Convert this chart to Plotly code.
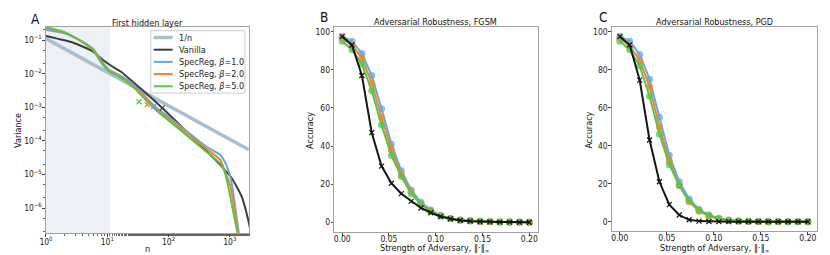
import plotly.graph_objects as go

# ---------------- Panel A data ----------------
inv_n_n = [1, 2048]
inv_n_var = [0.11, 5.4e-5]

van_n = [1, 2.8, 5.9, 8.5, 12.3, 16.8, 26, 43, 80, 190, 650, 1070, 1560, 2048, 2300]
van_var = [0.131, 0.083, 0.045, 0.0254, 0.016, 0.0114, 0.00575, 0.0026, 9.3e-4, 2.0e-4,
           2.2e-5, 7.8e-6, 2.2e-6, 3.6e-7, 1.2e-7]

b1_n = [1, 1.9, 2.8, 4.6, 5.9, 8.5, 10.9, 15.7, 26, 38, 62, 115, 400, 700, 890, 1050, 1420]
b1_var = [0.20, 0.16, 0.123, 0.076, 0.054, 0.0207, 0.0128, 0.0091, 0.0049, 0.00247,
          1.01e-3, 4.2e-4, 7.0e-5, 3.8e-5, 1.8e-5, 6.8e-6, 1.5e-7]

b2_n = [1, 1.9, 2.8, 4.6, 5.9, 8.5, 10.9, 15.7, 26, 38, 62, 115, 400, 700, 840, 1010, 1390]
b2_var = [0.223, 0.173, 0.127, 0.0735, 0.052, 0.0193, 0.0119, 0.0085, 0.0044, 0.00223,
          9.1e-4, 3.75e-4, 6.1e-5, 2.7e-5, 1.18e-5, 4.8e-6, 1.5e-7]

b5_n = [1, 1.9, 2.8, 4.6, 5.9, 8.5, 10.9, 15.7, 26, 38, 62, 115, 400, 700, 850, 950, 1360]
b5_var = [0.24, 0.177, 0.125, 0.071, 0.050, 0.018, 0.0114, 0.0081, 0.0041, 0.00205,
          8.3e-4, 3.3e-4, 5.0e-5, 2.1e-5, 1.0e-5, 4.0e-6, 1.5e-7]

# effective-dimension markers (n, variance) per curve
mark_n = {"van": 79, "b1": 57, "b2": 45, "b5": 33}
mark_var = {"van": 9.4e-4, "b1": 1.05e-3, "b2": 1.2e-3, "b5": 1.45e-3}

shade_n = [1, 11.1]

a_xtickvals = [1, 10, 100, 1000]
a_xticktext = ["10<sup>0</sup>", "10<sup>1</sup>", "10<sup>2</sup>", "10<sup>3</sup>"]
a_ytickvals = [1e-6, 1e-5, 1e-4, 1e-3, 1e-2, 1e-1]
a_yticktext = ["10<sup>−6</sup>", "10<sup>−5</sup>", "10<sup>−4</sup>",
               "10<sup>−3</sup>", "10<sup>−2</sup>", "10<sup>−1</sup>"]

legend_labels = ["1/n", "Vanilla", "SpecReg, <i>β</i>=1.0", "SpecReg, <i>β</i>=2.0", "SpecReg, <i>β</i>=5.0"]

# ---------------- Panels B/C data ----------------
eps = [0.0, 0.0105, 0.0211, 0.0316, 0.0421, 0.0526, 0.0632, 0.0737, 0.0842, 0.0947,
       0.1053, 0.1158, 0.1263, 0.1368, 0.1474, 0.1579, 0.1684, 0.1789, 0.1895, 0.2]

fgsm_van = [97.5, 93, 77, 47, 29.5, 20.5, 15, 11, 7.5, 5, 3, 1.8, 1, 0.6, 0.3, 0.2, 0.1, 0.1, 0, 0]
fgsm_b1 = [97.5, 95, 88.5, 77, 59.5, 41, 27, 17, 10.5, 6.5, 3.5, 2, 1.2, 0.8, 0.5, 0.3, 0.2, 0.1, 0.1, 0]
fgsm_b2 = [96.5, 93, 86, 73, 55, 38, 25, 16, 9.5, 6, 3.3, 1.8, 1.1, 0.7, 0.4, 0.3, 0.2, 0.1, 0.1, 0]
fgsm_b5 = [95, 90.5, 83, 69, 51, 35, 24, 15, 9.5, 5.8, 3.5, 2, 1.2, 0.8, 0.5, 0.3, 0.2, 0.1, 0.1, 0]

pgd_van = [97.5, 93, 74.5, 43, 21, 9, 3.5, 1, 0.3, 0.1, 0, 0, 0, 0, 0, 0, 0, 0, 0, 0]
pgd_b1 = [97.5, 95, 88, 75, 55, 35, 21, 12, 6.5, 3.5, 1.8, 0.8, 0.4, 0.2, 0.1, 0, 0, 0, 0, 0]
pgd_b2 = [96.5, 92.5, 85, 71, 50, 32, 19, 10.5, 5.5, 3, 1.5, 0.7, 0.3, 0.1, 0, 0, 0, 0, 0, 0]
pgd_b5 = [95, 90.5, 82, 66, 46, 30, 19, 11, 6, 3.2, 1.6, 0.8, 0.4, 0.2, 0.1, 0, 0, 0, 0, 0]

# ---------------- styles ----------------
C_INV = "#a9bfd0"
C_VAN_A = "#3d3d3d"
C_VAN = "#151515"
C_B1 = "#5fa8ea"
C_B2 = "#f7812c"
C_B5 = "#58c44b"
FONT = "DejaVu Sans Condensed, Liberation Sans Narrow, DejaVu Sans"
W, H = 830, 255
TXT = 9
TICK = 8.5


def px(x):
    return x / W


def py(y):
    return 1 - y / H


fig = go.Figure()

# Panel A traces
a_series = [
    (inv_n_n, inv_n_var, C_INV, 3.5, "linear"),
    (van_n, van_var, C_VAN_A, 2, "spline"),
    (b1_n, b1_var, C_B1, 2, "spline"),
    (b2_n, b2_var, C_B2, 2, "spline"),
    (b5_n, b5_var, C_B5, 2, "spline"),
]
for (nn, vv, col, lw, shp), nm in zip(a_series, legend_labels):
    fig.add_trace(go.Scatter(x=nn, y=vv, mode="lines", name=nm, showlegend=False,
                             line=dict(color=col, width=lw, shape=shp, smoothing=0.5),
                             xaxis="x", yaxis="y"))
for key, col in [("van", C_VAN_A), ("b1", C_B1), ("b2", C_B2), ("b5", C_B5)]:
    fig.add_trace(go.Scatter(x=[mark_n[key]], y=[mark_var[key]], mode="markers", showlegend=False,
                             marker=dict(symbol="x-thin", size=5, line=dict(color=col, width=1.3)),
                             xaxis="x", yaxis="y"))


# Panels B & C
def add_acc(xa, ya, van, b1, b2, b5):
    for vals, col in [(b1, C_B1), (b2, C_B2), (b5, C_B5)]:
        fig.add_trace(go.Scatter(x=eps, y=vals, mode="lines+markers", showlegend=False,
                                 line=dict(color=col, width=2),
                                 marker=dict(symbol="circle", size=7, color=col, opacity=0.75),
                                 xaxis=xa, yaxis=ya))
    fig.add_trace(go.Scatter(x=eps, y=van, mode="lines+markers", showlegend=False,
                             line=dict(color=C_VAN, width=2),
                             marker=dict(symbol="x-thin", size=5, line=dict(color=C_VAN, width=1.2)),
                             xaxis=xa, yaxis=ya))


add_acc("x2", "y2", fgsm_van, fgsm_b1, fgsm_b2, fgsm_b5)
add_acc("x3", "y3", pgd_van, pgd_b1, pgd_b2, pgd_b5)

axis_common = dict(showline=True, mirror=True, linecolor="#a0a0a0", linewidth=1,
                   ticks="outside", ticklen=2.5, tickcolor="#444", showgrid=False, zeroline=False,
                   tickfont=dict(family=FONT, size=TICK, color="#222"))

fig.update_layout(
    width=W, height=H, margin=dict(l=0, r=0, t=0, b=0),
    paper_bgcolor="white", plot_bgcolor="white",
    font=dict(family=FONT, size=TICK, color="#222"),
    showlegend=False,
    xaxis=dict(domain=[px(39.3), px(244.3)], type="log", range=[0, 3.317],
               tickvals=a_xtickvals, ticktext=a_xticktext, ticklabelstandoff=-2,
               minor=dict(ticks="outside", ticklen=1.5, tickcolor="#666"),
               anchor="y", **axis_common),
    yaxis=dict(domain=[py(233.3), py(26.7)], type="log", range=[-6.753, -0.604],
               tickvals=a_ytickvals, ticktext=a_yticktext, ticklabelstandoff=-1,
               minor=dict(ticks="outside", ticklen=1.5, tickcolor="#666"),
               anchor="x", **axis_common),
    xaxis2=dict(domain=[px(330), px(535.7)], range=[-0.0085, 0.2095], tickvals=[0, 0.05, 0.1, 0.15, 0.2],
                tickformat=".2f", ticklabelstandoff=-4, anchor="y2", **axis_common),
    yaxis2=dict(domain=[py(232.3), py(26.7)], range=[-5.25, 102.6], tickvals=[0, 20, 40, 60, 80, 100],
                ticklabelstandoff=-1, anchor="x2", **axis_common),
    xaxis3=dict(domain=[px(610), px(816.7)], range=[-0.0085, 0.2095], tickvals=[0, 0.05, 0.1, 0.15, 0.2],
                tickformat=".2f", ticklabelstandoff=-4, anchor="y3", **axis_common),
    yaxis3=dict(domain=[py(231), py(26.7)], range=[-4.9, 102.6], tickvals=[0, 20, 40, 60, 80, 100],
                ticklabelstandoff=-1, anchor="x3", **axis_common),
)

fig.add_shape(type="rect", xref="x", yref="y domain", x0=shade_n[0], x1=shade_n[1], y0=0, y1=1,
              fillcolor="#edf1f5", line=dict(width=0), layer="below")

# Legend for panel A (compact, matplotlib-like)
LG_X0, LG_Y0, LG_X1, LG_Y1 = 145, 30.7, 240, 93
fig.add_shape(type="rect", xref="paper", yref="paper", x0=px(LG_X0), x1=px(LG_X1),
              y0=py(LG_Y1), y1=py(LG_Y0), fillcolor="rgba(255,255,255,0.85)",
              line=dict(color="#cccccc", width=1), layer="above")
for i, ((nn, vv, col, lw, shp), nm) in enumerate(zip(a_series, legend_labels)):
    yy = 37.5 + i * 12.2
    fig.add_shape(type="line", xref="paper", yref="paper", x0=px(148), x1=px(167),
                  y0=py(yy), y1=py(yy), line=dict(color=col, width=lw), layer="above")
    fig.add_annotation(x=px(171), y=py(yy), xref="paper", yref="paper", text=nm, showarrow=False,
                       xanchor="left", yanchor="middle", font=dict(family=FONT, size=9, color="#222"))

ann = [
    (28.3, 19, "A", 13.5), (319.3, 17, "B", 13.5), (600.7, 17, "C", 13.5),
    (141.7, 22.5, "First hidden layer", TXT),
    (432, 21.5, "Adversarial Robustness, FGSM", TXT),
    (714, 21.5, "Adversarial Robustness, PGD", TXT),
    (141.7, 248.5, "n", TXT),
    (432, 248, "Strength of Adversary, ‖·‖<sub>∞</sub>", TXT),
    (714, 248, "Strength of Adversary, ‖·‖<sub>∞</sub>", TXT),
]
for x, y, t, s in ann:
    fig.add_annotation(x=px(x), y=py(y), xref="paper", yref="paper", text=t, showarrow=False,
                       xanchor="center", yanchor="middle", font=dict(family=FONT, size=s, color="#111"))
for x, t in [(11, "Variance"), (305.5, "Accuracy"), (586.5, "Accuracy")]:
    fig.add_annotation(x=px(x), y=py(130), xref="paper", yref="paper", text=t, showarrow=False,
                       textangle=-90, xanchor="center", yanchor="middle",
                       font=dict(family=FONT, size=TXT, color="#111"))

fig.write_html("out.html", config={"displayModeBar": False},
               post_script="document.body.style.margin='0';")
